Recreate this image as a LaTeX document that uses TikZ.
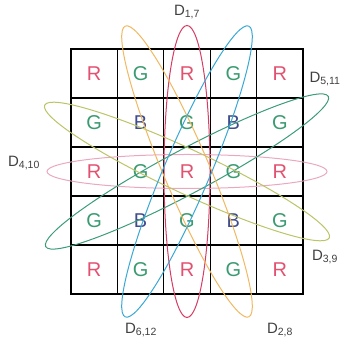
\documentclass[tikz,border=0pt]{standalone}
\usepackage{fontspec}
\setmainfont{Liberation Sans}
\usetikzlibrary{positioning}
\definecolor{rtxt}{RGB}{226,82,112}
\definecolor{gtxt}{RGB}{58,154,112}
\definecolor{btxt}{RGB}{64,76,140}
\definecolor{c17}{RGB}{214,60,100}
\definecolor{c410}{RGB}{234,168,192}
\definecolor{c511}{RGB}{60,156,120}
\definecolor{c39}{RGB}{188,196,104}
\definecolor{c28}{RGB}{240,184,96}
\definecolor{c612}{RGB}{58,168,212}
\tikzset{
  cell/.style={draw=black,line width=1.2pt,minimum width=46.4pt,minimum height=49pt,
               inner sep=0pt,font=\fontsize{20}{22}\selectfont},
  ring/.style={line width=1pt},
  lbl/.style={font=\fontsize{15}{17}\selectfont,inner sep=1pt,text=black!75},
}
\begin{document}
\begin{tikzpicture}[x=1pt,y=1pt]
  \useasboundingbox (0,0) rectangle (343,347);
  \coordinate (c) at (187,175.5);

  % colour filter array
  \foreach \i in {1,...,5}{
    \foreach \j in {1,...,5}{
      \pgfmathtruncatemacro\k{mod(\i,2)+mod(\j,2)}
      \edef\cl{\ifcase\k btxt\or gtxt\else rtxt\fi}
      \node[cell,text=\cl] (p\i\j) at ({71+46.4*(\j-0.5)},{298-49*(\i-0.5)})
        {\ifcase\k B\or G\else R\fi};
    }}

  % directions
  \draw[ring,draw=c410] (c) ellipse (140 and 17);
  \draw[ring,draw=c17] (c) ellipse (23 and 146);
  \draw[ring,draw=c511,rotate around={28:(c)}] (c) ellipse (160 and 22);
  \draw[ring,draw=c39,rotate around={-25:(c)}] (c) ellipse (157 and 22);
  \draw[ring,draw=c28,rotate around={23:(c)}] (c) ellipse (23 and 158);
  \draw[ring,draw=c612,rotate around={-23:(c)}] (c) ellipse (23 and 158);

  \node[lbl] (d17)  at (187,335) {D\textsubscript{1,7}};
  \node[lbl] (d511) at (325,268) {D\textsubscript{5,11}};
  \node[lbl] (d410) at (24,184)  {D\textsubscript{4,10}};
  \node[lbl] (d39)  at (325,90)  {D\textsubscript{3,9}};
  \node[lbl] (d612) at (141,17)  {D\textsubscript{6,12}};
  \node[lbl] (d28)  at (280,17)  {D\textsubscript{2,8}};
\end{tikzpicture}
\end{document}
